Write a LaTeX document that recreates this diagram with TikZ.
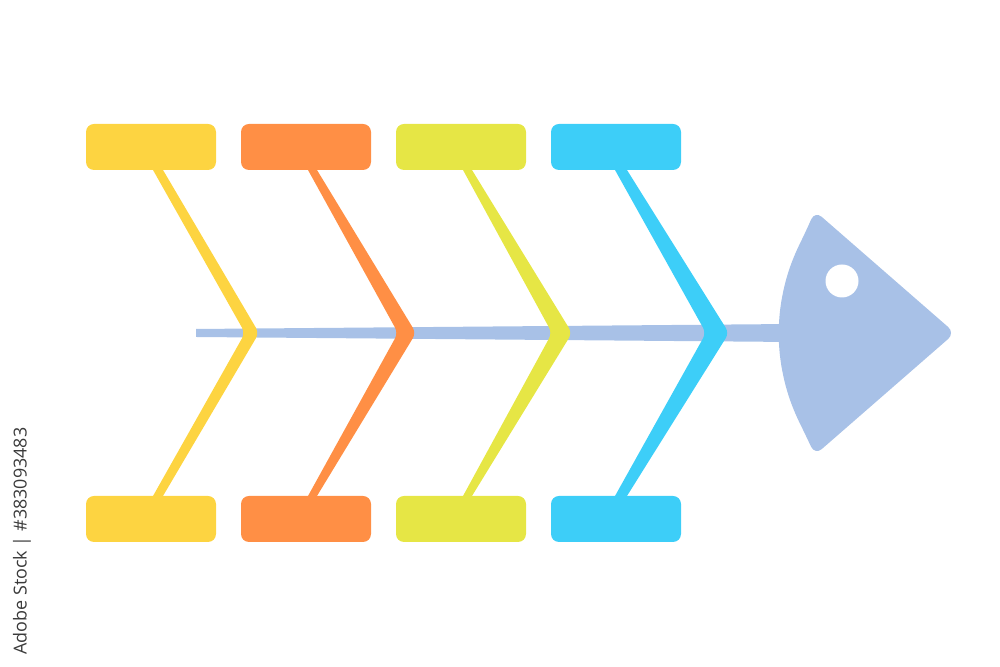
\documentclass[tikz,border=0pt]{standalone}
\usepackage{fontspec}
\setsansfont{Open Sans}
\usetikzlibrary{calc}
\definecolor{cyel}{HTML}{FDD441}
\definecolor{corg}{HTML}{FF8F45}
\definecolor{clim}{HTML}{E6E645}
\definecolor{cblu}{HTML}{3DCEF8}
\definecolor{chead}{HTML}{A8C1E7}
\definecolor{cmark}{HTML}{3A3A3A}
\tikzset{
  box/.style={rectangle, rounded corners=0.8mm, minimum width=13mm, minimum height=4.6mm, inner sep=0pt},
  bonefill/.style={rounded corners=0.6mm},
  stocktext/.style={font=\sffamily\fontsize{5.1pt}{6pt}\selectfont, text=cmark, inner sep=0pt}
}
% #1 colour, #2 outer top x, #3 inner top x, #4 tip x, #5 notch x
\newcommand\fishbone[5]{%
  \fill[#1, bonefill]
    ($(#3,170)!-0.092!(#5,333)$) -- (#5,333) -- ($(#3,496)!-0.092!(#5,333)$) --
    ($(#2,496)!-0.092!(#4,333)$) -- (#4,333) -- ($(#2,170)!-0.092!(#4,333)$) -- cycle;}
\begin{document}
\begin{tikzpicture}[x=0.1mm, y=-0.1mm]
\useasboundingbox (0,0) rectangle (1000,667);
% spine
\fill[chead] (196,329) -- (792,324) -- (792,342) -- (196,337) -- cycle;
% bones
\fishbone{cyel}{163}{153}{259}{245}
\fishbone{corg}{317}{308}{416}{398}
\fishbone{clim}{472}{463}{572}{552}
\fishbone{cblu}{627}{615}{729}{706}
% boxes
\node[box, fill=cyel] (t1) at (151,147) {};
\node[box, fill=corg] (t2) at (306,147) {};
\node[box, fill=clim] (t3) at (461,147) {};
\node[box, fill=cblu] (t4) at (616,147) {};
\node[box, fill=cyel] (b1) at (151,519) {};
\node[box, fill=corg] (b2) at (306,519) {};
\node[box, fill=clim] (b3) at (461,519) {};
\node[box, fill=cblu] (b4) at (616,519) {};
% head
\fill[chead, rounded corners=0.9mm]
  (815,211) -- (955,333) -- (815,455)
  -- (804.5,432.8) -- (795.2,413.8) -- (787.9,394.4) -- (782.7,374.3)
  -- (779.5,353.9) -- (778.5,333.5) -- (779.5,313.1) -- (782.7,292.7)
  -- (787.9,272.6) -- (795.2,253.2) -- (804.5,234.2) -- cycle;
\fill[white] (842,281) circle (16.5);
% stock mark
\node[stocktext, rotate=90, anchor=east] (wm) at (22,427) {Adobe Stock | \#383093483};
\end{tikzpicture}
\end{document}
